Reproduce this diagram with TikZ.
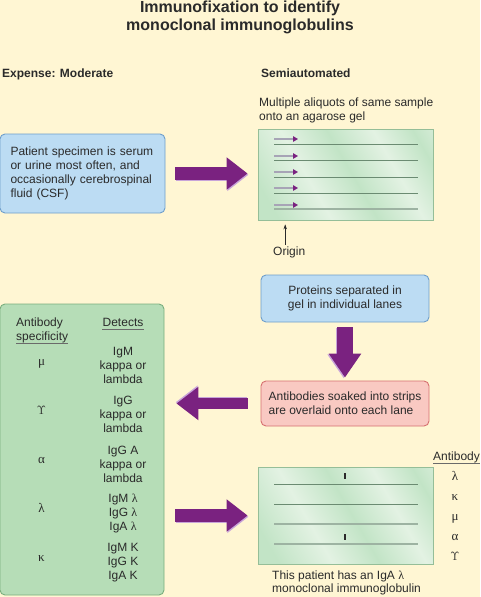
\documentclass[tikz,border=0pt]{standalone}
\usepackage[no-math]{fontspec}
\setmainfont{Liberation Sans}
\newfontfamily\grk{Liberation Serif}
\usetikzlibrary{arrows.meta,calc}
\definecolor{bg}{HTML}{FFF6D3}
\definecolor{textcol}{HTML}{2A2A2A}
\definecolor{bluefill}{HTML}{BCDCF3}
\definecolor{blueline}{HTML}{6E9ECB}
\definecolor{pinkfill}{HTML}{F9C9C2}
\definecolor{pinkline}{HTML}{D67070}
\definecolor{greenfill}{HTML}{B6DDB7}
\definecolor{greenline}{HTML}{7AAE7E}
\definecolor{gelD}{HTML}{C2E4C6}
\definecolor{gelL}{HTML}{E3F2E3}
\definecolor{gelline}{HTML}{6B8B72}
\definecolor{gellight}{HTML}{9DB3A2}
\definecolor{purp}{HTML}{7A2280}
\definecolor{lav}{HTML}{C8A4D9}
\definecolor{shaftgrey}{HTML}{A7A4B6}
\pgfdeclarehorizontalshading{gelshade}{100bp}{color(0bp)=(gelD); color(22bp)=(gelD); color(38bp)=(gelL); color(52bp)=(gelD); color(66bp)=(gelL); color(78bp)=(gelD); color(90bp)=(gelL); color(100bp)=(gelL)}
\tikzset{
  t/.style={font=\fontsize{12}{14}\selectfont, text=textcol, inner sep=0pt},
  g/.style={font=\grk\fontsize{13}{14}\selectfont, text=textcol, inner sep=0pt},
  hd/.style={font=\fontsize{12}{14}\selectfont\bfseries, text=textcol, inner sep=0pt},
  ttl/.style={font=\fontsize{16}{18}\selectfont\bfseries, text=textcol, inner sep=0pt},
  bluebox/.style={draw=blueline, fill=bluefill, line width=0.9pt, rounded corners=5pt, font=\fontsize{12}{14}\selectfont, text=textcol},
  pinkbox/.style={draw=pinkline, fill=pinkfill, line width=0.9pt, rounded corners=5pt, font=\fontsize{12}{14}\selectfont, text=textcol},
  greenbox/.style={draw=greenline, fill=greenfill, line width=0.9pt, rounded corners=5pt},
  gelbox/.style={draw=greenline!80, line width=0.8pt, shade, shading=gelshade, shading angle=30},
  lane/.style={draw=gelline, line width=1pt},
  lanelight/.style={draw=gellight, line width=1.6pt},
  gelarrow/.style={draw=shaftgrey, line width=2.4pt, -{Triangle[length=5pt,width=5.5pt,color=purp]}},
  ul/.style={draw=textcol!70, line width=0.8pt},
  barrow/.style={draw=purp, line width=12.5pt, -{Triangle[length=21pt,width=31pt]}},
  bshadow/.style={draw=lav, line width=12.5pt, -{Triangle[length=21pt,width=31pt]}},
  origarrow/.style={draw=textcol, line width=0.6pt, -{Stealth[length=5pt,width=3.5pt]}},
}
\begin{document}
\begin{tikzpicture}[x=1pt,y=-1pt]
\useasboundingbox[fill=bg] (0,0) rectangle (480,597);

% title
\node[ttl, anchor=base] (title1) at (240,12.5) {Immunofixation to identify};
\node[ttl, anchor=base] (title2) at (240,30.5) {monoclonal immunoglobulins};
\node[hd, anchor=base west] (expense) at (2,77) {Expense: Moderate};
\node[hd, anchor=base west] (semi) at (261,77) {Semiautomated};

% box 1
\node[bluebox, minimum width=165pt, minimum height=79pt, text width=144pt, inner xsep=10.5pt, align=left] (box1) at (82.5,173.5)
  {Patient specimen is serum\\or urine most often, and\\occasionally cerebrospinal\\fluid (CSF)};

% gel 1
\node[t, anchor=base west] (multi1) at (259,106) {Multiple aliquots of same sample};
\node[t, anchor=base west] (multi2) at (259,120) {onto an agarose gel};
\node[gelbox, minimum width=175pt, minimum height=91pt] (gel1) at (345.5,174.5) {};
\foreach \yy in {144,160,177,193} \draw[lane] (274,\yy) -- (418,\yy);
\draw[lanelight] (274,209) -- (418,209);
\foreach \yy in {139,156,172,188,205} \draw[gelarrow] (274,\yy) -- (298,\yy);
\node[t, anchor=base west] (orig) at (273,255.7) {Origin};
\draw[origarrow, shorten <=2pt, shorten >=4pt] ([xshift=-4pt]orig.north) -- ([xshift=-4pt]orig.north |- gel1.south);

% arrow 1
\draw[bshadow, shorten <=10pt, shorten >=10pt, transform canvas={shift={(0.8,1.3)}}] (box1.east) -- (box1.east -| gel1.west);
\draw[barrow, shorten <=10pt, shorten >=10pt] (box1.east) -- (box1.east -| gel1.west);

% box 2
\node[bluebox, minimum width=168pt, minimum height=47pt, align=center] (box2) at (345,298.5)
  {Proteins separated in\\gel in individual lanes};
% pink
\node[pinkbox, minimum width=168pt, minimum height=45pt, align=left] (pink) at (345,403.5)
  {Antibodies soaked into strips\\are overlaid onto each lane};

% down arrow
\draw[bshadow, line width=16pt, -{Triangle[length=24pt,width=31pt]}, shorten <=5pt, shorten >=3pt, transform canvas={shift={(-1.3,0.8)}}] (box2.south) -- (pink.north);
\draw[barrow, line width=16pt, -{Triangle[length=24pt,width=31pt]}, shorten <=5pt, shorten >=3pt] (box2.south) -- (pink.north);

% green box
\node[greenbox, minimum width=164pt, minimum height=291pt] (green) at (82,449.5) {};

% left arrow
\draw[bshadow, line width=11pt, -{Triangle[length=22pt,width=32pt]}, shorten <=13pt, shorten >=12pt, transform canvas={shift={(-0.8,-1.3)}}] (pink.west) -- (pink.west -| green.east);
\draw[barrow, line width=11pt, -{Triangle[length=22pt,width=32pt]}, shorten <=13pt, shorten >=12pt] (pink.west) -- (pink.west -| green.east);

% green contents
\node[t, anchor=base west] (abA) at (16,326.7) {Antibody};
\node[t, anchor=base west] (abB) at (16,340.7) {specificity};
\draw[ul] ([yshift=-3pt]abB.base west) -- ([yshift=-3pt]abB.base east);
\node[t, anchor=base] (det) at (123,326.7) {Detects};
\draw[ul] ([yshift=-3pt]det.base west) -- ([yshift=-3pt]det.base east);

\node[g, anchor=base] (gmu) at (41.5,365) {μ};
\node[t, anchor=base] (d1a) at (123,355) {IgM};
\node[t, anchor=base] (d1b) at (123,369) {kappa or};
\node[t, anchor=base] (d1c) at (123,383) {lambda};

\node[g, anchor=base] (gup) at (41.5,414) {$\Upsilon$};
\node[t, anchor=base] (d2a) at (123,404) {IgG};
\node[t, anchor=base] (d2b) at (123,418) {kappa or};
\node[t, anchor=base] (d2c) at (123,432) {lambda};

\node[g, anchor=base] (gal) at (41.5,463) {α};
\node[t, anchor=base] (d3a) at (123,454) {IgG A};
\node[t, anchor=base] (d3b) at (123,468) {kappa or};
\node[t, anchor=base] (d3c) at (123,482) {lambda};

\node[g, anchor=base] (gla) at (41.5,512) {λ};
\node[t, anchor=base] (d4a) at (123,502) {IgM {\grk λ}};
\node[t, anchor=base] (d4b) at (123,516) {IgG {\grk λ}};
\node[t, anchor=base] (d4c) at (123,530) {IgA {\grk λ}};

\node[g, anchor=base] (gka) at (41.5,561) {κ};
\node[t, anchor=base] (d5a) at (123,551) {IgM K};
\node[t, anchor=base] (d5b) at (123,565) {IgG K};
\node[t, anchor=base] (d5c) at (123,579) {IgA K};

% gel 2
\node[gelbox, minimum width=175pt, minimum height=97pt] (gel2) at (345.5,515.5) {};
\draw[lane] (274,484) -- (418,484);
\draw[lane] (274,504) -- (418,504);
\draw[lanelight] (274,524) -- (418,524);
\draw[lanelight] (274,544) -- (418,544);
\fill[textcol] (344,473) rectangle (346.2,479);
\fill[textcol] (344,534) rectangle (346.2,540);

% arrow 3
\draw[bshadow, shorten <=11pt, shorten >=10pt, transform canvas={shift={(0.8,1.3)}}] (gel2.west -| green.east) -- (gel2.west);
\draw[barrow, shorten <=11pt, shorten >=10pt] (gel2.west -| green.east) -- (gel2.west);

% right labels
\node[t, anchor=base west] (abR) at (433,460) {Antibody};
\draw[ul] ([yshift=-3pt]abR.base west) -- ([yshift=-3pt]abR.base east);
\node[g, anchor=base] (rla) at (455,480) {λ};
\node[g, anchor=base] (rka) at (455,500) {κ};
\node[g, anchor=base] (rmu) at (455,520.5) {μ};
\node[g, anchor=base] (ral) at (455,540) {α};
\node[g, anchor=base] (rup) at (455,560) {$\Upsilon$};

\node[t, anchor=base west] (cap1) at (272,579) {This patient has an IgA {\grk λ}};
\node[t, anchor=base west] (cap2) at (272,592.7) {monoclonal immunoglobulin};
\end{tikzpicture}
\end{document}
